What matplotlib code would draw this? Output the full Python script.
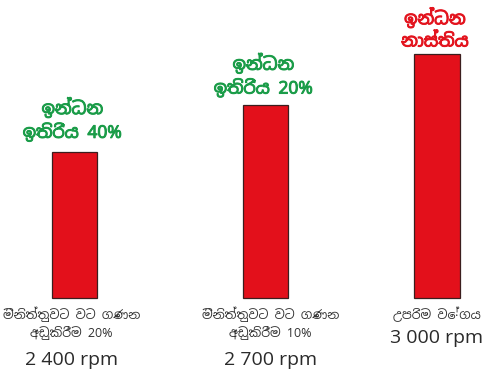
import matplotlib
matplotlib.use('Agg')
from matplotlib import pyplot as plt
from matplotlib import font_manager
from matplotlib import patheffects as pe

# Bar heights (fuel used, % of maximum speed case)
bar_values = [60, 79, 100]

top_labels = ['ඉන්ධන\nඉතිරිය 40%', 'ඉන්ධන\nඉතිරිය 20%', 'ඉන්ධන\nනාස්තිය']
top_colors = ['#1a9c48', '#1a9c48', '#e3141e']
bottom_labels = ['මිනිත්තුවට වට ගණන\nඅඩුකිරීම 20%', 'මිනිත්තුවට වට ගණන\nඅඩුකිරීම 10%', 'උපරිම වේගය']
rpm_labels = ['2 400 rpm', '2 700 rpm', '3 000 rpm']

# pick a font with Sinhala glyphs if there is one, else fall back
installed = {f.name for f in font_manager.fontManager.ttflist}
wanted = ['Noto Sans Sinhala', 'Noto Serif Sinhala', 'Iskoola Pota', 'LKLUG', 'Open Sans', 'DejaVu Sans']
fams = [f for f in wanted if f in installed] or ['DejaVu Sans']
plt.rcParams['font.family'] = fams
num_font = 'Open Sans' if 'Open Sans' in installed else 'DejaVu Sans'

# bar layout
x_pos = [0, 1, 1.898]
bar_w = 0.24
top_off = [7, 5.5, 2.5]        # gap above bar, points
bottom_dx = [-2, 3.5, 0]       # nudge of the captions under the bars
rpm_dy = [-48, -48, -32.5]     # baseline of the rpm line below the bar foot

fig = plt.figure(figsize=(4.85, 3.7), dpi=100)
ax = fig.add_axes([0, 0, 1, 1])
ax.bar(x_pos, bar_values, width=bar_w, color='#e3101b', edgecolor='#3b1e1e', linewidth=0.9)

ax.set_xlim(-0.390, 2.149)
ax.set_ylim(-29.5, 122.1)
ax.axis('off')

for i in range(3):
    ax.annotate(top_labels[i], xy=(x_pos[i], bar_values[i]), xytext=(-1.5, top_off[i]),
                textcoords='offset points', ha='center', va='bottom',
                fontsize=12.5, fontweight='bold', color=top_colors[i], linespacing=1.3,
                path_effects=[pe.withStroke(linewidth=0.7, foreground=top_colors[i])])

    ax.annotate(bottom_labels[i], xy=(x_pos[i], 0), xytext=(bottom_dx[i], -6),
                textcoords='offset points', ha='center', va='top',
                fontsize=9, color='#333333', linespacing=1.35)
    ax.annotate(rpm_labels[i], xy=(x_pos[i], 0), xytext=(bottom_dx[i], rpm_dy[i]),
                textcoords='offset points', ha='center', va='baseline',
                fontsize=14, color='#2a2a2a', family=num_font)

fig.savefig('out.png', dpi=100)
